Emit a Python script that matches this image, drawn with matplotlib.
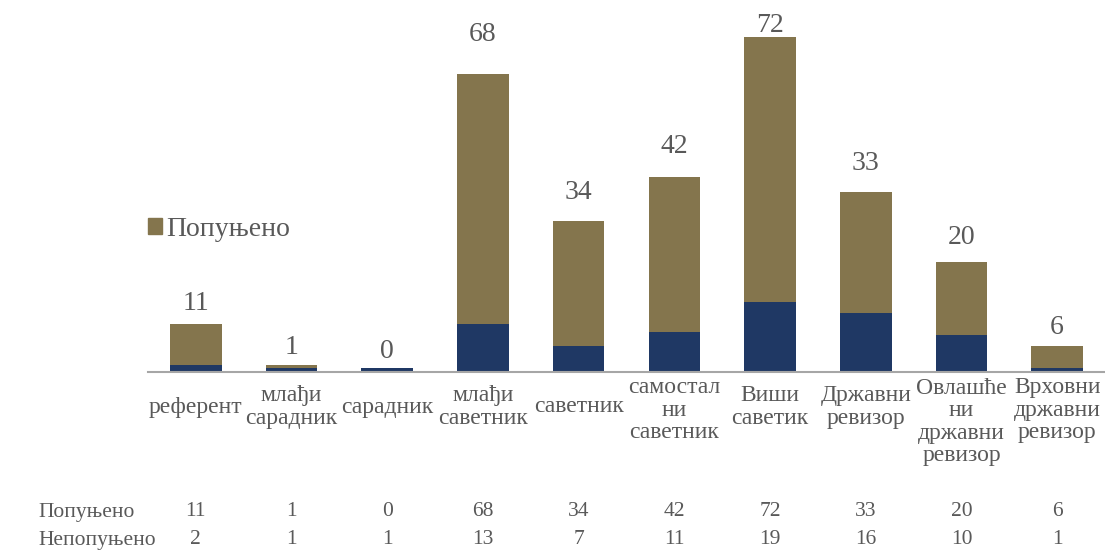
import matplotlib.pyplot as plt
from matplotlib.patches import Patch
import matplotlib.transforms as mtransforms
import numpy as np

plt.rcParams['font.family'] = ['Liberation Serif', 'DejaVu Serif']

categories = ['референт', 'млађи\nсарадник', 'сарадник', 'млађи\nсаветник', 'саветник',
              'самостал\nни\nсаветник', 'Виши\nсаветик', 'Државни\nревизор',
              'Овлашће\nни\nдржавни\nревизор', 'Врховни\nдржавни\nревизор']
popunjeno = [11, 1, 0, 68, 34, 42, 72, 33, 20, 6]
nepopunjeno = [2, 1, 1, 13, 7, 11, 19, 16, 10, 1]
row_names = ['Попуњено', 'Непопуњено']

olive = '#84754D'
navy = '#1F3864'
grey = '#595959'

W, H = 1105, 557
fig = plt.figure(figsize=(W / 100, H / 100), dpi=100)
ax = fig.add_axes([148 / W, 185 / H, 957 / W, 368 / H])

x = np.arange(len(categories))
ax.bar(x, nepopunjeno, width=0.54, color=navy, zorder=2)
ax.bar(x, popunjeno, width=0.54, bottom=nepopunjeno, color=olive, zorder=2)

ax.set_xlim(-0.5, len(categories) - 0.5)
ax.set_ylim(0, 100)
ax.set_xticks([])
ax.set_yticks([])
for s in ['top', 'right', 'left']:
    ax.spines[s].set_visible(False)
ax.spines['bottom'].set_color('#A6A6A6')
ax.spines['bottom'].set_linewidth(1.5)

# value labels above the stacks (pixel gap grows a bit with the value, kept inside the figure)
for xi, p, n in zip(x, popunjeno, nepopunjeno):
    top = ax.transData.transform((xi, p + n))[1]
    ylab = min(top + 17 + 0.33 * p, H - 25)
    fig.text(ax.transData.transform((xi, 0))[0] / W, ylab / H, str(p),
             ha='center', va='center', fontsize=20, color=grey)

# category labels under the axis
trans = mtransforms.blended_transform_factory(ax.transData, fig.transFigure)
line_h = 23.5
for xi, lab in zip(x, categories):
    nl = lab.count('\n') + 1
    yc = max(407, 375 + nl * line_h / 2)
    ax.text(xi, 1 - yc / H, lab, transform=trans, ha='center', va='center',
            fontsize=17, color=grey, linespacing=1.1)

# data table rows
for r, (name, vals) in enumerate(zip(row_names, [popunjeno, nepopunjeno])):
    yy = 1 - (512 + r * 28) / H
    fig.text(38 / W, yy, name, ha='left', va='center', fontsize=15.5, color=grey)
    for xi, v in zip(x, vals):
        ax.text(xi, yy, str(v), transform=trans, ha='center', va='center',
                fontsize=15.5, color=grey)

ax.legend(handles=[Patch(color=olive, label='Попуњено')], loc='center left',
          bbox_to_anchor=(148 / W, 1 - 229 / H), bbox_transform=fig.transFigure,
          frameon=False, fontsize=20, handlelength=0.5, handleheight=0.5,
          handletextpad=0.15, borderpad=0, borderaxespad=0, labelcolor=grey)

fig.savefig('out.png', dpi=100)
